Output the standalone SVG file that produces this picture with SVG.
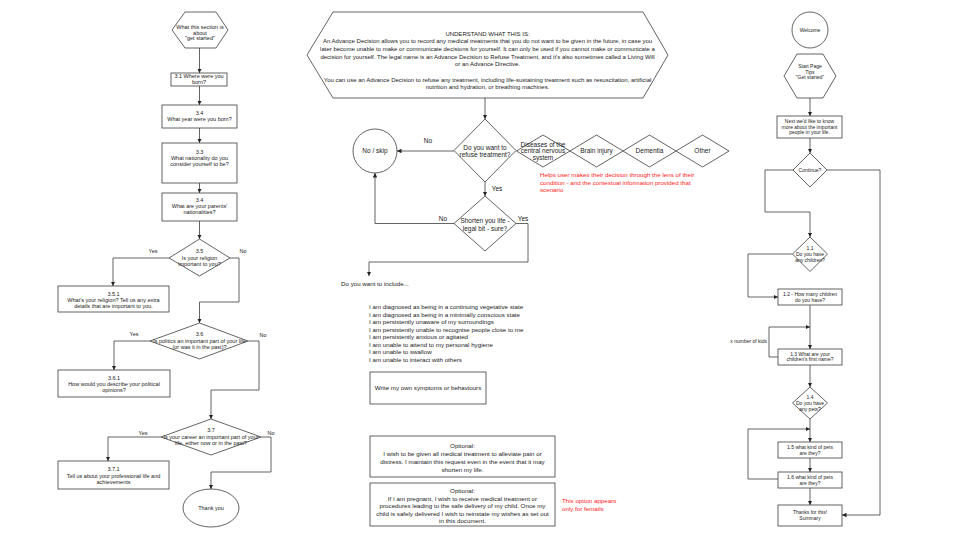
<svg xmlns="http://www.w3.org/2000/svg" width="960" height="540" viewBox="0 0 960 540">
<defs>
<style>
.s{fill:#fff;stroke:#3c3c3c;stroke-width:0.8}
.c{fill:none;stroke:#3c3c3c;stroke-width:0.8}
text{font-family:"Liberation Sans",Arial,sans-serif;fill:#1a1a1a}
.m{text-anchor:middle}
.l5{font-size:5.5px}
.r5{font-size:5px}
.t6{font-size:6px}
.t62{font-size:6.2px}
.t65{font-size:6.5px}
.red{fill:#ff1a1a}
</style>
<marker id="ah" viewBox="0 0 6 6" refX="6" refY="3" markerWidth="4.5" markerHeight="4.5" orient="auto" markerUnits="userSpaceOnUse"><path d="M0,0 L6,3 L0,6 z" fill="#222"/></marker>
</defs>
<rect width="960" height="540" fill="#fff"/>

<g id="connectors">
<!-- left column -->
<path class="c" marker-end="url(#ah)" d="M199.5,48 V73"/>
<path class="c" marker-end="url(#ah)" d="M199.5,86 V105"/>
<path class="c" marker-end="url(#ah)" d="M199.5,128 V143"/>
<path class="c" marker-end="url(#ah)" d="M199.5,183 V193"/>
<path class="c" marker-end="url(#ah)" d="M199.5,221 V239"/>
<path class="c" marker-end="url(#ah)" d="M169,258 H113 V286"/>
<path class="c" marker-end="url(#ah)" d="M230,258 H239 V302 H199.5 V323"/>
<path class="c" marker-end="url(#ah)" d="M150,341 H114 V370"/>
<path class="c" marker-end="url(#ah)" d="M248,341 H259 V390 H211 V419"/>
<path class="c" marker-end="url(#ah)" d="M161,437 H108 V461"/>
<path class="c" marker-end="url(#ah)" d="M261,437 H271 V472 H211 V489"/>
<!-- middle -->
<path class="c" marker-end="url(#ah)" d="M485,98 V119"/>
<path class="c" marker-end="url(#ah)" d="M454,151 H397"/>
<path class="c" marker-end="url(#ah)" d="M485,182 V196"/>
<path class="c" marker-end="url(#ah)" d="M454,223.5 H375 V173"/>
<path class="c" marker-end="url(#ah)" d="M516,223.5 H528 V262 H369 V276"/>
<!-- right column -->
<path class="c" marker-end="url(#ah)" d="M810,98 V116"/>
<path class="c" marker-end="url(#ah)" d="M810,138 V153"/>
<path class="c" marker-end="url(#ah)" d="M793,170 H765 V212 H810 V237"/>
<path class="c" marker-end="url(#ah)" d="M827,170 H880 V515 H842"/>
<path class="c" marker-end="url(#ah)" d="M792.5,254 H748 V297 H778"/>
<path class="c" marker-end="url(#ah)" d="M810,305 V349"/>
<path class="c" marker-end="url(#ah)" d="M778,357 H769 V327 H810"/>
<path class="c" marker-end="url(#ah)" d="M810,365 V387"/>
<path class="c" marker-end="url(#ah)" d="M810,419 V442"/>
<path class="c" marker-end="url(#ah)" d="M778,479 H748 V429 H810"/>
<path class="c" marker-end="url(#ah)" d="M810,458 V472"/>
<path class="c" marker-end="url(#ah)" d="M810,488 V505"/>
</g>

<g id="labels">
<text class="l5 m" x="153" y="253">Yes</text>
<text class="l5 m" x="243" y="253">No</text>
<text class="l5 m" x="134" y="336">Yes</text>
<text class="l5 m" x="263" y="337">No</text>
<text class="l5 m" x="143" y="435">Yes</text>
<text class="l5 m" x="271" y="435">No</text>
<text class="t65 m" x="428" y="142.5">No</text>
<text class="t65 m" x="497" y="190.5">Yes</text>
<text class="t65 m" x="443" y="220.5">No</text>
<text class="t65 m" x="523" y="220.5">Yes</text>
<text class="r5" x="767" y="342.8" text-anchor="end">x number of kids</text>
</g>

<!-- LEFT COLUMN -->
<g id="n-start">
<polygon class="s" points="172,30 185,12 216,12 228,30 216,48 185,48"/>
<text class="l5 m" x="200" y="29">What this section is</text>
<text class="l5 m" x="200" y="34.5">about</text>
<text class="l5 m" x="200" y="40">"get started"</text>
</g>
<g id="n-3-1">
<rect class="s" x="171" y="73" width="56" height="13"/>
<text class="l5 m" x="199" y="78">3.1 Where were you</text>
<text class="l5 m" x="199" y="84">born?</text>
</g>
<g id="n-3-4a">
<rect class="s" x="162" y="105" width="75" height="23"/>
<text class="l5 m" x="199.5" y="115">3.4</text>
<text class="l5 m" x="199.5" y="121">What year were you born?</text>
</g>
<g id="n-3-3">
<rect class="s" x="162" y="143" width="75" height="40"/>
<text class="l5 m" x="199.5" y="154">3.3</text>
<text class="l5 m" x="199.5" y="160">What nationality do you</text>
<text class="l5 m" x="199.5" y="166">consider yourself to be?</text>
</g>
<g id="n-3-4b">
<rect class="s" x="162" y="193" width="75" height="28"/>
<text class="l5 m" x="199.5" y="202">3.4</text>
<text class="l5 m" x="199.5" y="208">What are your parents'</text>
<text class="l5 m" x="199.5" y="214">nationalities?</text>
</g>
<g id="n-3-5">
<polygon class="s" points="199.5,239 230,258 199.5,276 169,258"/>
<text class="l5 m" x="199.5" y="253.4">3.5</text>
<text class="l5 m" x="199.5" y="259.9">Is your religion</text>
<text class="l5 m" x="199.5" y="266.4">important to you?</text>
</g>
<g id="n-3-5-1">
<rect class="s" x="58" y="286" width="111" height="26"/>
<text class="l5 m" x="113.5" y="296">3.5.1</text>
<text class="l5 m" x="113.5" y="302">What's your religion? Tell us any extra</text>
<text class="l5 m" x="113.5" y="308">details that are important to you.</text>
</g>
<g id="n-3-6">
<polygon class="s" points="199.5,323 248,341 199.5,359 150,341"/>
<text class="l5 m" x="199.5" y="336.4">3.6</text>
<text class="l5 m" x="199.5" y="342.9">Is politics an important part of your life</text>
<text class="l5 m" x="199.5" y="349.4">(or was it in the past)?</text>
</g>
<g id="n-3-6-1">
<rect class="s" x="58" y="370" width="112" height="27"/>
<text class="l5 m" x="114" y="380">3.6.1</text>
<text class="l5 m" x="114" y="386">How would you describe your political</text>
<text class="l5 m" x="114" y="392">opinions?</text>
</g>
<g id="n-3-7">
<polygon class="s" points="211,419 261,437 211,455 161,437"/>
<text class="l5 m" x="211" y="432.4">3.7</text>
<text class="l5 m" x="211" y="438.9">Is your career an important part of your</text>
<text class="l5 m" x="211" y="445.4">life, either now or in the past?</text>
</g>
<g id="n-3-7-1">
<rect class="s" x="58" y="461" width="111" height="28"/>
<text class="l5 m" x="113.5" y="471">3.7.1</text>
<text class="l5 m" x="113.5" y="477.5">Tell us about your professional life and</text>
<text class="l5 m" x="113.5" y="484">achievements</text>
</g>
<g id="n-thankyou">
<ellipse class="s" cx="211" cy="508" rx="28" ry="19"/>
<text class="l5 m" x="211" y="510">Thank you</text>
</g>

<!-- MIDDLE -->
<g id="n-understand">
<polygon class="s" points="307,55 333,12 643,12 668,55 643,98 333,98"/>
<text class="t6 m" x="487.5" y="35.5">UNDERSTAND WHAT THIS IS:</text>
<text class="t6 m" x="487.5" y="43.2">An Advance Decision allows you to record any medical treatments that you do not want to be given in the future, in case you</text>
<text class="t6 m" x="487.5" y="50.9">later become unable to make or communicate decisions for yourself. It can only be used if you cannot make or communicate a</text>
<text class="t6 m" x="487.5" y="58.6">decision for yourself. The legal name is an Advance Decision to Refuse Treatment, and it's also sometimes called a Living Will</text>
<text class="t6 m" x="487.5" y="66.3">or an Advance Directive.</text>
<text class="t6 m" x="487.5" y="81.7">You can use an Advance Decision to refuse any treatment, including life-sustaining treatment such as resuscitation, artificial</text>
<text class="t6 m" x="487.5" y="89.4">nutrition and hydration, or breathing machines.</text>
</g>
<g id="n-refuse">
<polygon class="s" points="485,119 516,150.5 485,182 454,150.5"/>
<text class="t65 m" x="485" y="150">Do you want to</text>
<text class="t65 m" x="485" y="156.6">refuse treatment?</text>
</g>
<g id="n-noskip">
<circle class="s" cx="375" cy="151" r="22"/>
<text class="t65 m" x="375" y="153.3">No / skip</text>
</g>
<g id="n-shorten">
<polygon class="s" points="485,196 516,223.5 485,251 454,223.5"/>
<text class="t65 m" x="485" y="223">Shorten you life -</text>
<text class="t65 m" x="485" y="230.6">legal bit - sure?</text>
</g>
<g id="n-cns">
<polygon class="s" points="516.5,151 543,135 570,151 543,167"/>
<text class="t65 m" x="543" y="146.5">Diseases of the</text>
<text class="t65 m" x="543" y="153.2">central nervous</text>
<text class="t65 m" x="543" y="159.9">system</text>
</g>
<g id="n-brain">
<polygon class="s" points="570,151 596.5,135 623,151 596.5,167"/>
<text class="t65 m" x="596.5" y="153.3">Brain injury</text>
</g>
<g id="n-dementia">
<polygon class="s" points="623,151 649.5,135 676,151 649.5,167"/>
<text class="t65 m" x="649.5" y="153.3">Dementia</text>
</g>
<g id="n-other">
<polygon class="s" points="676,151 702.5,135 729,151 702.5,167"/>
<text class="t65 m" x="702.5" y="153.3">Other</text>
</g>
<g id="note-lens">
<text class="t62 red" x="540" y="177.2">Helps user makes their decision through the lens of their</text>
<text class="t62 red" x="540" y="184.7">condition - and the contextual information provided that</text>
<text class="t62 red" x="540" y="192.2">scenario</text>
</g>
<g id="n-include">
<text class="t62" x="341" y="286">Do you want to include...</text>
</g>
<g id="n-list">
<text class="t62" x="369" y="309.2">I am diagnosed as being in a continuing vegetative state</text>
<text class="t62" x="369" y="316.7">I am diagnosed as being in a minimally conscious state</text>
<text class="t62" x="369" y="324.2">I am persistently unaware of my surroundings</text>
<text class="t62" x="369" y="331.7">I am persistently unable to recognise people close to me</text>
<text class="t62" x="369" y="339.2">I am persistently anxious or agitated</text>
<text class="t62" x="369" y="346.7">I am unable to attend to my personal hygiene</text>
<text class="t62" x="369" y="354.2">I am unable to swallow</text>
<text class="t62" x="369" y="361.7">I am unable to interact with others</text>
</g>
<g id="n-write">
<rect class="s" x="370" y="372" width="116" height="32"/>
<text class="t62 m" x="428" y="390.2">Write my own symptoms or behaviours</text>
</g>
<g id="n-opt1">
<rect class="s" x="370" y="436" width="185" height="41"/>
<text class="t62 m" x="462.5" y="448.2">Optional:</text>
<text class="t62 m" x="462.5" y="456.2">I wish to be given all medical treatment to alleviate pain or</text>
<text class="t62 m" x="462.5" y="464.2">distress. I maintain this request even in the event that it may</text>
<text class="t62 m" x="462.5" y="472.2">shorten my life.</text>
</g>
<g id="n-opt2">
<rect class="s" x="370" y="483" width="185" height="43"/>
<text class="t62 m" x="462.5" y="493.2">Optional:</text>
<text class="t62 m" x="462.5" y="500.7">If I am pregnant, I wish to receive medical treatment or</text>
<text class="t62 m" x="462.5" y="508.2">procedures leading to the safe delivery of my child. Once my</text>
<text class="t62 m" x="462.5" y="515.7">child is safely delivered I wish to reinstate my wishes as set out</text>
<text class="t62 m" x="462.5" y="523.2">in this document.</text>
</g>
<g id="note-femails">
<text class="t62 red" x="562" y="503.2">This option appears</text>
<text class="t62 red" x="562" y="511.2">only for femails</text>
</g>

<!-- RIGHT COLUMN -->
<g id="n-welcome">
<circle class="s" cx="810" cy="30" r="18"/>
<text class="r5 m" x="810" y="31.8">Welcome</text>
</g>
<g id="n-tips">
<polygon class="s" points="784,76 797,54 823,54 836,76 823,98 797,98"/>
<text class="r5 m" x="810" y="68.2">Start Page</text>
<text class="r5 m" x="810" y="73.7">Tips</text>
<text class="r5 m" x="810" y="79.2">"Get started"</text>
</g>
<g id="n-next">
<rect class="s" x="777" y="116" width="65" height="22"/>
<text class="r5 m" x="809.5" y="123.2">Next we'd like to know</text>
<text class="r5 m" x="809.5" y="128.7">more about the important</text>
<text class="r5 m" x="809.5" y="134.2">people in your life.</text>
</g>
<g id="n-continue">
<polygon class="s" points="810,153 827,170 810,187 793,170"/>
<text class="r5 m" x="810" y="171.8">Continue?</text>
</g>
<g id="n-1-1">
<polygon class="s" points="810,237 827.5,254 810,271.5 792.5,254"/>
<text class="r5 m" x="810" y="249.8">1.1</text>
<text class="r5 m" x="810" y="255.8">Do you have</text>
<text class="r5 m" x="810" y="261.8">any children?</text>
</g>
<g id="n-1-2">
<rect class="s" x="778" y="289" width="64" height="16"/>
<text class="r5 m" x="810" y="296.2">1.2 - How many children</text>
<text class="r5 m" x="810" y="301.8">do you have?</text>
</g>
<g id="n-1-3">
<rect class="s" x="778" y="349" width="64" height="16"/>
<text class="r5 m" x="810" y="355.8">1.3 What are your</text>
<text class="r5 m" x="810" y="361.3">children's first name?</text>
</g>
<g id="n-1-4">
<polygon class="s" points="810,387 827.5,403 810,419 792.5,403"/>
<text class="r5 m" x="810" y="398.8">1.4</text>
<text class="r5 m" x="810" y="404.8">Do you have</text>
<text class="r5 m" x="810" y="410.8">any pets?</text>
</g>
<g id="n-1-5">
<rect class="s" x="778" y="442" width="64" height="16"/>
<text class="r5 m" x="810" y="449.2">1.5 what kind of pets</text>
<text class="r5 m" x="810" y="454.8">are they?</text>
</g>
<g id="n-1-6">
<rect class="s" x="778" y="472" width="64" height="16"/>
<text class="r5 m" x="810" y="479.2">1.6 what kind of pets</text>
<text class="r5 m" x="810" y="484.8">are they?</text>
</g>
<g id="n-thanks">
<rect class="s" x="778" y="505" width="64" height="21"/>
<text class="r5 m" x="810" y="513.8">Thanks for this!</text>
<text class="r5 m" x="810" y="519.8">Summary</text>
</g>
</svg>
